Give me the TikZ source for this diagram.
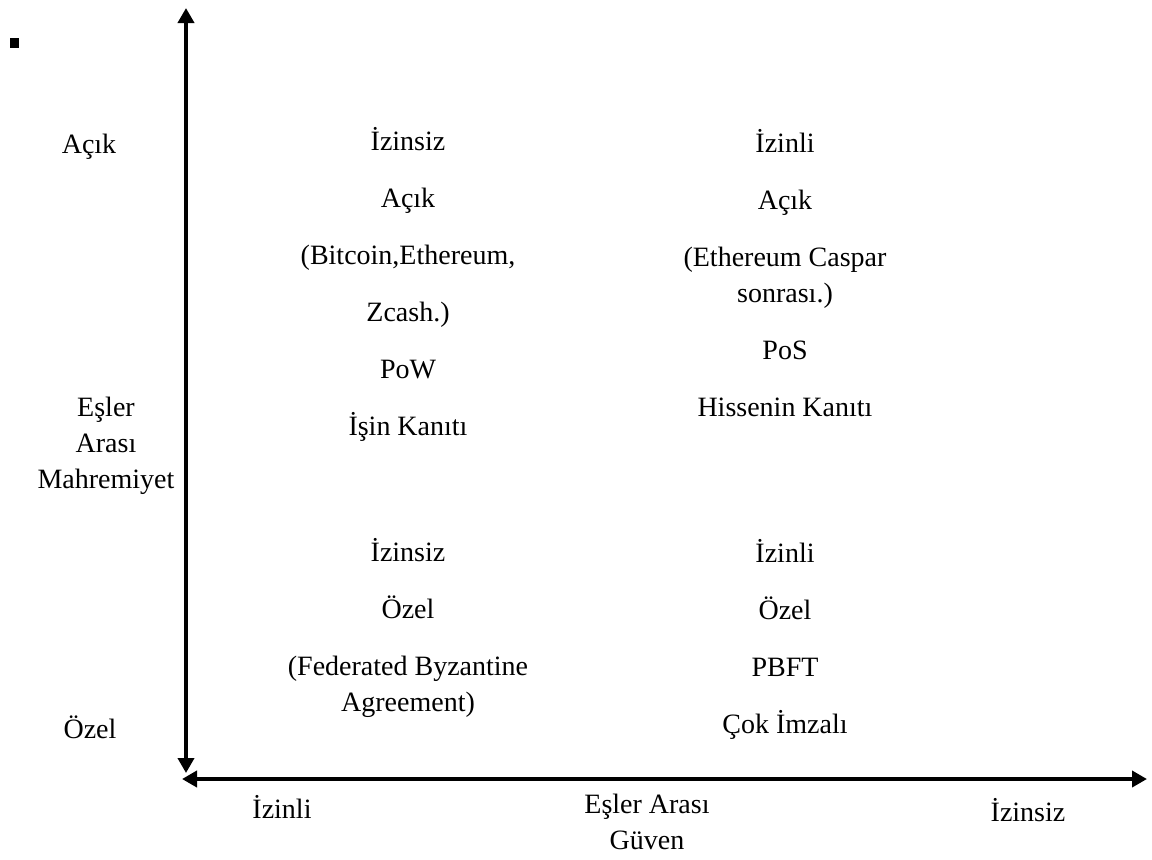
\documentclass[tikz,border=0pt]{standalone}
\usepackage{fontspec}
\setmainfont{Liberation Serif}
\usetikzlibrary{arrows.meta}

\begin{document}
\begin{tikzpicture}[x=0.5pt,y=-0.5pt]
	\tikzset{
		lbl/.style={align=center,inner sep=0pt,font=\fontsize{14}{18}\selectfont},
		ax/.style={line width=2pt,{Triangle[length=7.5pt,width=8pt]}-{Triangle[length=7.5pt,width=8pt]}}
	}
	\useasboundingbox (0,0) rectangle (1152,859);
	% bullet mark
	\fill (10,38) rectangle (19,48);
	
	% axes
	\coordinate (ytop) at (186,8);
	\coordinate (ybot) at (186,773);
	\coordinate (xleft) at (182,779);
	\coordinate (xright) at (1147,779);
	\draw[ax] (ybot) -- (ytop);
	\draw[ax] (xleft) -- (xright);
	
	% vertical axis labels
	\node[lbl] (acik) at (89,147) {Açık};
	\node[lbl] (mahrem) at (106,446) {Eşler\\Arası\\Mahremiyet};
	\node[lbl] (ozel) at (90,727) {Özel};
	
	% horizontal axis labels
	\node[lbl] (izinli) at (282,807) {İzinli};
	\node[lbl] (guven) at (647,822) {Eşler Arası\\Güven};
	\node[lbl] (izinsiz) at (1028,810) {İzinsiz};
	
	% quadrants
	\node[lbl] (q1) at (408,284) {İzinsiz\\[10.5pt] Açık\\[10.5pt] (Bitcoin,Ethereum,\\[10.5pt] Zcash.)\\[10.5pt] PoW\\[10.5pt] İşin Kanıtı};
	\node[lbl] (q2) at (785,273) {İzinli\\[10.5pt] Açık\\[10.5pt] (Ethereum Caspar\\ sonrası.)\\[10.5pt] PoS\\[10.5pt] Hissenin Kanıtı};
	\node[lbl] (q3) at (408,628) {İzinsiz\\[10.5pt] Özel\\[10.5pt] (Federated Byzantine\\ Agreement)};
	\node[lbl] (q4) at (785,639) {İzinli\\[10.5pt] Özel\\[10.5pt] PBFT\\[10.5pt] Çok İmzalı};
\end{tikzpicture}
\end{document}
